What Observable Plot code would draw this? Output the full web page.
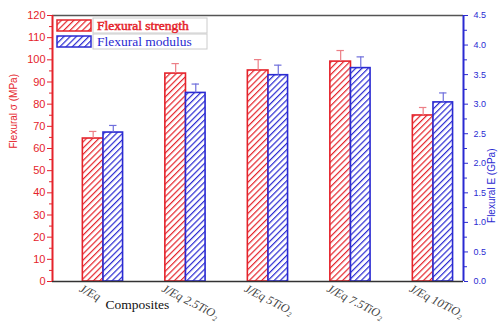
<!DOCTYPE html>
<html><head><meta charset="utf-8">
<script src="https://cdn.jsdelivr.net/npm/d3@7"></script>
<script src="https://cdn.jsdelivr.net/npm/@observablehq/plot@0.6"></script>
<style>body{margin:0;background:#fff} svg{display:block}</style>
</head><body><div id="chart"></div>
<script>
// ---- data ----
const categories = ["J/Eq", "J/Eq 2.5TiO₂", "J/Eq 5TiO₂", "J/Eq 7.5TiO₂", "J/Eq 10TiO₂"];
const strength = [64.5, 93.8, 95.2, 99.2, 74.9];       // MPa
const strengthErr = [3.2, 4.5, 4.9, 5.0, 3.6];
const modulus = [2.52, 3.19, 3.49, 3.61, 3.03];        // GPa
const modulusErr = [0.12, 0.15, 0.17, 0.19, 0.16];
const leftTicks = [0, 10, 20, 30, 40, 50, 60, 70, 80, 90, 100, 110, 120];
const rightTicks = [0, 0.5, 1.0, 1.5, 2.0, 2.5, 3.0, 3.5, 4.0, 4.5];
const seriesNames = ["Flexural strength", "Flexural modulus"];
const xTitle = "Composites";
const yLeftTitle = "Flexural σ (MPa)";
const yRightTitle = "Flexural E (GPa)";

// ---- layout / styles ----
const RED = "#e5232b", BLUE = "#2a2ad2";
const RED_ERR = "#ec7f86", BLUE_ERR = "#6f6fdc";
const k = 120 / 4.5;               // right axis -> left axis units
const xDomain = [0.382, 5.364];
const bw = 0.25;

const rows = categories.map((c, j) => ({
  i: j + 1, cat: c,
  s: strength[j], se: strengthErr[j],
  m: modulus[j] * k, me: modulusErr[j] * k
}));

const plot = Plot.plot({
  width: 502, height: 325,
  marginLeft: 52, marginRight: 39, marginTop: 15, marginBottom: 44,
  style: {fontFamily: "'Liberation Sans', sans-serif", fontSize: "11px", background: "white", overflow: "visible"},
  x: {domain: xDomain, axis: null},
  y: {domain: [0, 120], axis: null},
  marks: [
    // frame
    Plot.ruleY([120], {stroke: "#555", strokeWidth: 1.5}),
    // bars
    Plot.rectY(rows, {x1: d => d.i - bw, x2: d => d.i, y1: 0, y2: d => d.s,
      fill: "url(#hatchR)", stroke: RED, strokeWidth: 1.6}),
    Plot.rectY(rows, {x1: d => d.i, x2: d => d.i + bw * 0.95, y1: 0, y2: d => d.m,
      fill: "url(#hatchB)", stroke: BLUE, strokeWidth: 1.6}),
    // error bars (upper only)
    Plot.ruleX(rows, {x: d => d.i - bw / 2, y1: d => d.s, y2: d => d.s + d.se, stroke: RED_ERR, strokeWidth: 1.2}),
    Plot.ruleY(rows, {y: d => d.s + d.se, x1: d => d.i - bw / 2 - 0.045, x2: d => d.i - bw / 2 + 0.045, stroke: RED_ERR, strokeWidth: 1.2}),
    Plot.ruleX(rows, {x: d => d.i + bw * 0.95 / 2, y1: d => d.m, y2: d => d.m + d.me, stroke: BLUE_ERR, strokeWidth: 1.2}),
    Plot.ruleY(rows, {y: d => d.m + d.me, x1: d => d.i + bw * 0.95 / 2 - 0.045, x2: d => d.i + bw * 0.95 / 2 + 0.045, stroke: BLUE_ERR, strokeWidth: 1.2}),
    // bottom axis line
    Plot.ruleY([0], {stroke: "#333", strokeWidth: 1.6}),
    // left axis
    Plot.axisY({anchor: "left", ticks: leftTicks, tickSize: 5, tickPadding: 2, color: RED, label: null, fontSize: 11}),
    Plot.axisY({anchor: "left", ticks: leftTicks.slice(0, -1).map(v => v + 5), tickSize: 3, tickFormat: () => "", color: RED, label: null}),
    Plot.ruleX([xDomain[0]], {stroke: RED, strokeWidth: 2}),
    // right axis
    Plot.axisY({anchor: "right", ticks: rightTicks.map(v => v * k), tickFormat: v => (v / k).toFixed(1),
      tickSize: 4, tickPadding: 6, color: BLUE, label: null, fontSize: 9}),
    Plot.axisY({anchor: "right", ticks: rightTicks.slice(0, -1).map(v => (v + 0.25) * k), tickSize: 3, tickFormat: () => "", color: BLUE, label: null}),
    Plot.ruleX([xDomain[1]], {stroke: BLUE, strokeWidth: 2}),
    // category labels
    Plot.text(rows, {x: "i", y: 0, text: "cat", rotate: 27, textAnchor: "start", lineAnchor: "top",
      dx: -21, dy: 2, fill: "#444", fontStyle: "italic", fontFamily: "'Liberation Serif', serif", fontSize: 12}),
    // axis titles
    Plot.text([xTitle], {frameAnchor: "bottom-left", dx: 53, dy: 27, textAnchor: "start",
      fill: "#111", fontFamily: "'Liberation Serif', serif", fontSize: 13.5}),
    Plot.text([yLeftTitle], {frameAnchor: "left", dx: -39, rotate: -90, fill: RED, fontSize: 10}),
    Plot.text([yRightTitle], {frameAnchor: "right", dx: 28, rotate: -90, fill: BLUE, fontSize: 10})
  ]
});

// patterns + legend
const svg = d3.select(plot);
const defs = svg.insert("defs", ":first-child");
[["hatchR", RED], ["hatchB", BLUE]].forEach(([id, c]) => {
  const p = defs.append("pattern").attr("id", id).attr("patternUnits", "userSpaceOnUse")
    .attr("width", 4.4).attr("height", 4.4).attr("patternTransform", "rotate(45)");
  p.append("rect").attr("width", 4.4).attr("height", 4.4).attr("fill", "white");
  p.append("line").attr("x1", 0).attr("y1", 0).attr("x2", 0).attr("y2", 4.4)
    .attr("stroke", c).attr("stroke-width", 2.4);
});
const lg = svg.append("g").attr("text-anchor", "start");
const legendItems = [
  {name: seriesNames[0], fill: "url(#hatchR)", stroke: RED, bold: true},
  {name: seriesNames[1], fill: "url(#hatchB)", stroke: BLUE, bold: false}
];
legendItems.forEach((it, j) => {
  const y0 = 19 + j * 16;
  lg.append("rect").attr("x", 93).attr("y", y0 - 1).attr("width", 114).attr("height", 15)
    .attr("fill", "white").attr("stroke", "#ccc");
  lg.append("rect").attr("x", 57).attr("y", y0 + 1).attr("width", 34).attr("height", 11)
    .attr("fill", it.fill).attr("stroke", it.stroke).attr("stroke-width", 1.5);
  lg.append("text").attr("x", 97).attr("y", y0 + 10.5).text(it.name)
    .attr("text-anchor", "start")
    .attr("fill", it.stroke).attr("font-family", "'Liberation Serif', serif")
    .attr("font-size", 13.5)
    .attr("stroke", it.bold ? it.stroke : "none").attr("stroke-width", it.bold ? 0.5 : 0);
});

document.getElementById("chart").appendChild(plot);
</script>
</body></html>
